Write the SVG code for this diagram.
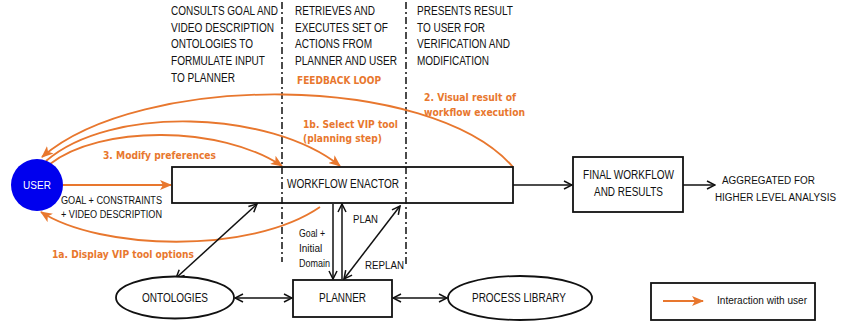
<svg xmlns="http://www.w3.org/2000/svg" width="841" height="324" viewBox="0 0 841 324">
<style>
.t{font-family:"Liberation Sans",Arial,sans-serif;font-size:12px;fill:#111}
.s{font-family:"Liberation Sans",Arial,sans-serif;font-size:10px;fill:#111}
.o{font-family:"DejaVu Sans",Verdana,sans-serif;font-size:10px;font-weight:bold;fill:#e8772e}
.box{fill:#fff;stroke:#111;stroke-width:1.8}
.bl{fill:none;stroke:#111;stroke-width:1.5}
.or{fill:none;stroke:#e8772e;stroke-width:1.8}
.dd{stroke:#111;stroke-width:1.5;stroke-dasharray:7 3 2 3;fill:none}
</style>
<defs>
<marker id="ab" viewBox="0 0 10 10" refX="9" refY="5" markerWidth="10" markerHeight="10" markerUnits="userSpaceOnUse" orient="auto-start-reverse">
<path d="M1,1 L9,5 L1,9" fill="none" stroke="#111" stroke-width="1.5"/>
</marker>
<marker id="ao" viewBox="0 0 12 10" refX="11" refY="5" markerWidth="12" markerHeight="10" markerUnits="userSpaceOnUse" orient="auto">
<path d="M0,0 L12,5 L0,10 L3,5 z" fill="#e8772e"/>
</marker>
</defs>
<rect width="841" height="324" fill="#fff"/>

<g id="dividers">
<line class="dd" x1="282" y1="2" x2="282" y2="262"/>
<line class="dd" x1="406" y1="2" x2="406" y2="266"/>
</g>

<g id="descriptions">
<text class="t" x="171" y="15" textLength="107" lengthAdjust="spacingAndGlyphs">CONSULTS GOAL AND</text>
<text class="t" x="171" y="31.7" textLength="103" lengthAdjust="spacingAndGlyphs">VIDEO DESCRIPTION</text>
<text class="t" x="171" y="48.3" textLength="82" lengthAdjust="spacingAndGlyphs">ONTOLOGIES TO</text>
<text class="t" x="171" y="65" textLength="94" lengthAdjust="spacingAndGlyphs">FORMULATE INPUT</text>
<text class="t" x="171" y="81.7" textLength="64" lengthAdjust="spacingAndGlyphs">TO PLANNER</text>
<text class="t" x="295" y="15" textLength="80" lengthAdjust="spacingAndGlyphs">RETRIEVES AND</text>
<text class="t" x="295" y="31.7" textLength="93" lengthAdjust="spacingAndGlyphs">EXECUTES SET OF</text>
<text class="t" x="295" y="48.3" textLength="77" lengthAdjust="spacingAndGlyphs">ACTIONS FROM</text>
<text class="t" x="295" y="65" textLength="102" lengthAdjust="spacingAndGlyphs">PLANNER AND USER</text>
<text class="t" x="417" y="15" textLength="96" lengthAdjust="spacingAndGlyphs">PRESENTS RESULT</text>
<text class="t" x="417" y="31.7" textLength="68" lengthAdjust="spacingAndGlyphs">TO USER FOR</text>
<text class="t" x="417" y="48.3" textLength="93" lengthAdjust="spacingAndGlyphs">VERIFICATION AND</text>
<text class="t" x="417" y="65" textLength="72" lengthAdjust="spacingAndGlyphs">MODIFICATION</text>
<text class="o" x="297" y="84" textLength="84" lengthAdjust="spacingAndGlyphs">FEEDBACK LOOP</text>
</g>

<g id="connectors">
<path class="or" d="M513,167 C430,72 140,72 42,157" marker-end="url(#ao)"/>
<path class="or" d="M46,161 C110,105 270,110 340,166" marker-end="url(#ao)"/>
<path class="or" d="M50,164 C100,125 220,125 282,166" marker-end="url(#ao)"/>
<path class="or" d="M63,185 L171,185" marker-end="url(#ao)"/>
<path class="or" d="M320,207 C250,255 100,250 41,212" marker-end="url(#ao)"/>
<line class="bl" x1="513" y1="185" x2="572" y2="185" marker-end="url(#ab)"/>
<line class="bl" x1="683" y1="185" x2="715" y2="185" marker-end="url(#ab)"/>
<line class="bl" x1="176" y1="278" x2="257" y2="204" marker-start="url(#ab)" marker-end="url(#ab)"/>
<line class="bl" x1="333" y1="204" x2="333" y2="279" marker-end="url(#ab)"/>
<line class="bl" x1="342" y1="279" x2="342" y2="204" marker-end="url(#ab)"/>
<line class="bl" x1="344" y1="279" x2="400" y2="206" marker-start="url(#ab)" marker-end="url(#ab)"/>
<line class="bl" x1="235" y1="298" x2="292" y2="298" marker-start="url(#ab)" marker-end="url(#ab)"/>
<line class="bl" x1="393" y1="298" x2="447" y2="298" marker-start="url(#ab)" marker-end="url(#ab)"/>
</g>

<g id="connector-labels">
<text class="o" x="303" y="128" textLength="95" lengthAdjust="spacingAndGlyphs">1b. Select VIP tool</text>
<text class="o" x="303" y="142" textLength="79" lengthAdjust="spacingAndGlyphs">(planning step)</text>
<text class="o" x="103" y="159" textLength="113" lengthAdjust="spacingAndGlyphs">3. Modify preferences</text>
<text class="o" x="424" y="101" textLength="92" lengthAdjust="spacingAndGlyphs">2. Visual result of</text>
<text class="o" x="424" y="116" textLength="101" lengthAdjust="spacingAndGlyphs">workflow execution</text>
<text class="o" x="52" y="258" textLength="142" lengthAdjust="spacingAndGlyphs">1a. Display VIP tool options</text>
<text class="s" x="61" y="204" textLength="101" lengthAdjust="spacingAndGlyphs">GOAL + CONSTRAINTS</text>
<text class="s" x="61" y="218" textLength="101" lengthAdjust="spacingAndGlyphs">+ VIDEO DESCRIPTION</text>
<text class="s" x="353" y="223" textLength="25" lengthAdjust="spacingAndGlyphs">PLAN</text>
<text class="s" x="299" y="237" font-size="9" textLength="26" lengthAdjust="spacingAndGlyphs">Goal +</text>
<text class="s" x="299" y="252" font-size="9">Initial</text>
<text class="s" x="299" y="267" font-size="9" textLength="31" lengthAdjust="spacingAndGlyphs">Domain</text>
<text class="s" x="365" y="269" textLength="39" lengthAdjust="spacingAndGlyphs">REPLAN</text>
</g>

<g id="user">
<circle cx="37" cy="185" r="26" fill="#0000ee"/>
<text class="s" x="37" y="189" text-anchor="middle" style="fill:#fff">USER</text>
</g>

<g id="workflow-enactor">
<rect class="box" x="172" y="167" width="341" height="36" fill-opacity="0"/>
<text class="t" x="287" y="188" textLength="112" lengthAdjust="spacingAndGlyphs">WORKFLOW ENACTOR</text>
</g>

<g id="final-workflow">
<rect class="box" x="573" y="157" width="110" height="55"/>
<text class="t" x="583" y="179" font-size="11" textLength="91" lengthAdjust="spacingAndGlyphs">FINAL WORKFLOW</text>
<text class="t" x="594" y="196" font-size="11" textLength="69" lengthAdjust="spacingAndGlyphs">AND RESULTS</text>
</g>

<g id="aggregated">
<text class="s" x="722" y="184" font-size="10.5" textLength="93" lengthAdjust="spacingAndGlyphs">AGGREGATED FOR</text>
<text class="s" x="715" y="201" textLength="121" lengthAdjust="spacingAndGlyphs">HIGHER LEVEL ANALYSIS</text>
</g>

<g id="ontologies">
<ellipse class="box" cx="175" cy="297.5" rx="59" ry="21"/>
<text class="t" x="142" y="302" textLength="66" lengthAdjust="spacingAndGlyphs">ONTOLOGIES</text>
</g>

<g id="planner">
<rect class="box" x="293" y="280" width="99" height="37"/>
<text class="t" x="319" y="302" textLength="47" lengthAdjust="spacingAndGlyphs">PLANNER</text>
</g>

<g id="process-library">
<ellipse class="box" cx="520" cy="298" rx="72" ry="22"/>
<text class="t" x="472" y="302" textLength="94" lengthAdjust="spacingAndGlyphs">PROCESS LIBRARY</text>
</g>

<g id="legend">
<rect class="box" x="651" y="283" width="164" height="37"/>
<line class="or" x1="663" y1="301" x2="703" y2="301" marker-end="url(#ao)"/>
<text class="s" x="717" y="304" textLength="90" lengthAdjust="spacingAndGlyphs">Interaction with user</text>
</g>
</svg>
